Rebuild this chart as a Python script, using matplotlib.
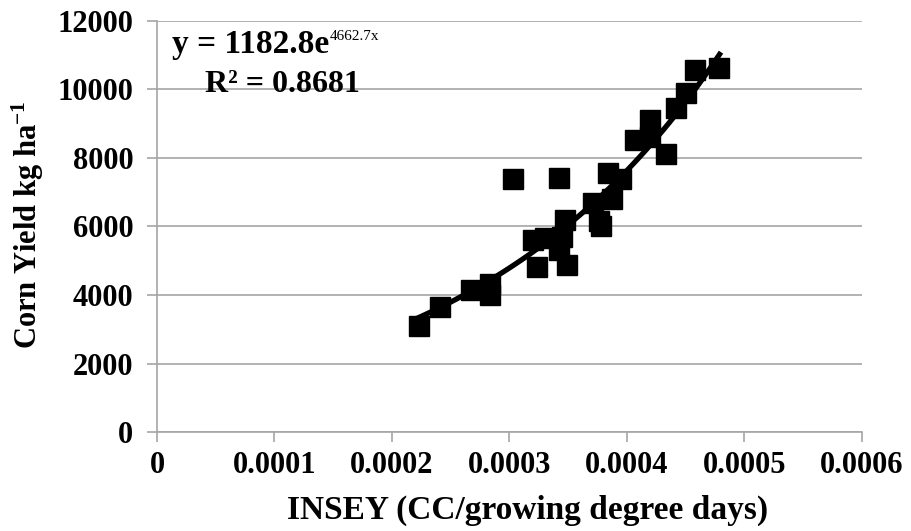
import numpy as np
import matplotlib
matplotlib.use("Agg")
import matplotlib.pyplot as plt

plt.rcParams['font.family'] = ['Liberation Serif', 'DejaVu Serif']
plt.rcParams['mathtext.fontset'] = 'custom'
plt.rcParams['mathtext.rm'] = 'Liberation Serif'
plt.rcParams['mathtext.it'] = 'Liberation Serif:italic'
plt.rcParams['mathtext.bf'] = 'Liberation Serif:bold'

insey = [0.000223, 0.000241, 0.000267, 0.000283, 0.000283, 0.000303, 0.000320,
         0.000323, 0.000330, 0.000342, 0.000342, 0.000345, 0.000347, 0.000349,
         0.000371, 0.000376, 0.000378, 0.000384, 0.000387, 0.000395, 0.000407,
         0.000420, 0.000420, 0.000433, 0.000442, 0.000450, 0.000458, 0.000478]
yield_kg = [3100, 3650, 4150, 4320, 3990, 7380, 5600,
            4820, 5650, 7410, 5300, 5700, 6190, 4880,
            6700, 6150, 6000, 7560, 6800, 7380, 8520,
            9110, 8620, 8120, 9450, 9900, 10560, 10620]

a_coef, b_coef = 1182.8, 4662.7
fit_range = [0.00022, 0.00048]

xticks = [0, 0.0001, 0.0002, 0.0003, 0.0004, 0.0005, 0.0006]
xticklabels = ['0', '0.0001', '0.0002', '0.0003', '0.0004', '0.0005', '0.0006']
yticks = [0, 2000, 4000, 6000, 8000, 10000, 12000]

fig = plt.figure(figsize=(9.11, 5.31), dpi=100)
ax = fig.add_axes([0.1723, 0.1864, 0.7739, 0.7741])

xf = np.linspace(fit_range[0], fit_range[1], 100)
ax.plot(xf, a_coef * np.exp(b_coef * xf), color='black', lw=3.8, zorder=3,
        solid_capstyle='butt')
ax.plot(insey, yield_kg, linestyle='none', marker='s', markersize=14,
        color='black', zorder=4)

ax.set_xlim(0, 0.0006)
ax.set_ylim(0, 12000)
ax.set_xticks(xticks)
ax.set_xticklabels(xticklabels)
ax.set_yticks(yticks)
ax.grid(axis='y', color='#a6a6a6', lw=1.2)
ax.set_axisbelow(True)
for s in ['top', 'right']:
    ax.spines[s].set_visible(False)
for s in ['left', 'bottom']:
    ax.spines[s].set_color('#a6a6a6')
    ax.spines[s].set_linewidth(1.2)
ax.tick_params(axis='both', colors='#a6a6a6', labelcolor='black', length=7,
               width=1.2, labelsize=22)
ax.tick_params(axis='x', pad=7)
ax.tick_params(axis='y', pad=10)
for lab in ax.get_xticklabels() + ax.get_yticklabels():
    lab.set_fontweight('bold')

ax.set_xlabel('INSEY (CC/growing degree days)', fontsize=24, fontweight='bold')
ax.xaxis.set_label_coords(0.525, -0.152)
ax.set_ylabel(r'Corn Yield kg ha$^{\mathbf{-1}}$', fontsize=22, fontweight='bold')
ax.yaxis.set_label_coords(-0.158, 0.505)

t = ax.text(0.0000128, 11066, 'y = 1182.8e', fontsize=24,
            fontweight='bold', ha='left', va='baseline')
ax.annotate('4662.7x', xy=(1, 0), xycoords=t, xytext=(0.5, 14.5),
            textcoords='offset points', fontsize=11, ha='left', va='baseline')
ax.text(0.0001072, 9927, 'R² = 0.8681', fontsize=23, fontweight='bold',
        ha='center', va='baseline')

fig.savefig('out.png', dpi=100)
